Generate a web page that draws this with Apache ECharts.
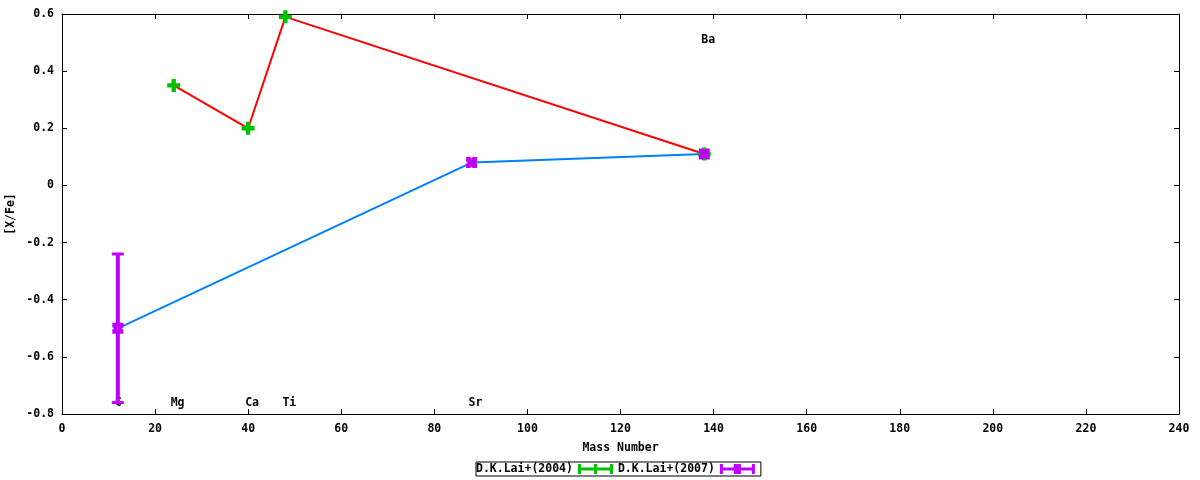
<!DOCTYPE html>
<html>
<head>
<meta charset="utf-8">
<script src="https://cdn.jsdelivr.net/npm/echarts@6/dist/echarts.min.js"></script>
<style>html,body{margin:0;padding:0;background:#fff}#c{width:1200px;height:480px}</style>
</head>
<body>
<div id="c"></div>
<script>
// ---- data ----
var xTicks = [0, 20, 40, 60, 80, 100, 120, 140, 160, 180, 200, 220, 240];
var yTicks = [-0.8, -0.6, -0.4, -0.2, 0, 0.2, 0.4, 0.6];
var lai2004Mass = [24, 40, 48, 138];
var lai2004Val  = [0.35, 0.20, 0.59, 0.11];
var lai2007Mass = [12, 88, 138];
var lai2007Val  = [-0.50, 0.08, 0.11];
var lai2007Err  = [0.26, 0, 0];
var elemNames = ['C', 'Mg', 'Ca', 'Ti', 'Sr', 'Ba'];
var elemMass  = [12, 24, 40, 48, 88, 138];
var elemLabelY = [-0.76, -0.76, -0.76, -0.76, -0.76, 0.51];

var FONT = 'DejaVu Sans Mono';
function pairs(xs, ys) { return xs.map(function (x, i) { return [x, ys[i]]; }); }

var plusPath = 'path://M4,0 L8,0 L8,4 L12,4 L12,8 L8,8 L8,12 L4,12 L4,8 L0,8 L0,4 L4,4 Z';
var boxPath = 'path://M0,0 L4,0 L5,1.5 L6,0 L10,0 L10,4 L8.5,5 L10,6 L10,10 L6,10 L5,8.5 L4,10 L0,10 L0,6 L1.5,5 L0,4 Z';
var legIcon1 = 'path://M0,0 L3,0 L3,3.5 L32,3.5 L32,0 L35,0 L35,10 L32,10 L32,6.5 L3,6.5 L3,10 L0,10 Z M16,0 L19,0 L19,10 L16,10 Z';
var legIcon2 = 'path://M0,0 L3,0 L3,3.5 L32,3.5 L32,0 L35,0 L35,10 L32,10 L32,6.5 L3,6.5 L3,10 L0,10 Z M14,0 L21,0 L21,10 L14,10 Z';

var GREEN = '#00c000', MAGENTA = '#c000ff', RED = '#ff0000', BLUE = '#0080ff';

var errData = lai2007Mass.map(function (m, i) {
  return [m, lai2007Val[i] - lai2007Err[i], lai2007Val[i] + lai2007Err[i]];
}).filter(function (d, i) { return lai2007Err[i] > 0; });

var axisText = { fontFamily: FONT, fontSize: 11.5, fontWeight: 'bold', color: '#000' };
var axLine = { show: true, onZero: false, lineStyle: { color: '#000', width: 1 } };
var axTick = { show: true, inside: true, length: 5, lineStyle: { color: '#000' } };

var chart = echarts.init(document.getElementById('c'), null, { renderer: 'canvas' });
chart.setOption({
  animation: false,
  backgroundColor: '#fff',
  grid: { left: 62, right: 21, top: 14, bottom: 66, containLabel: false, outerBoundsMode: 'none' },
  xAxis: [{
    type: 'value', min: xTicks[0], max: xTicks[xTicks.length - 1], interval: 20,
    name: 'Mass Number', nameLocation: 'middle', nameGap: 28, nameMoveOverlap: false,
    nameTextStyle: axisText,
    axisLine: axLine, axisTick: axTick,
    axisLabel: Object.assign({ margin: 9, formatter: function (v) { return String(v); } }, axisText),
    splitLine: { show: false }
  }, {
    type: 'value', position: 'top', min: xTicks[0], max: xTicks[xTicks.length - 1], interval: 20,
    axisLine: axLine, axisTick: axTick,
    axisLabel: { show: false }, splitLine: { show: false }
  }],
  yAxis: [{
    type: 'value', min: yTicks[0], max: yTicks[yTicks.length - 1], interval: 0.2,
    name: '[X/Fe]', nameLocation: 'middle', nameGap: 45, nameMoveOverlap: false,
    nameTextStyle: axisText,
    axisLine: axLine, axisTick: axTick,
    axisLabel: Object.assign({ margin: 8, formatter: function (v) { return Math.abs(v) < 1e-9 ? '0' : v.toFixed(1); } }, axisText),
    splitLine: { show: false }
  }, {
    type: 'value', position: 'right', min: yTicks[0], max: yTicks[yTicks.length - 1], interval: 0.2,
    axisLine: axLine, axisTick: axTick,
    axisLabel: { show: false }, splitLine: { show: false }
  }],
  legend: {
    left: 476, top: 462,
    orient: 'horizontal', align: 'right',
    padding: [1, 6, 1, 0],
    borderColor: '#000', borderWidth: 1,
    itemWidth: 35, itemHeight: 10, itemGap: 5,
    textStyle: { fontFamily: FONT, fontSize: 11.5, fontWeight: 'bold', color: '#000' },
    data: [
      { name: 'D.K.Lai+(2004)', icon: legIcon1 },
      { name: 'D.K.Lai+(2007)', icon: legIcon2 }
    ]
  },
  series: [
    {
      name: 'elements', type: 'custom', z: 1, silent: true,
      data: elemNames.map(function (n, i) { return [elemMass[i], elemLabelY[i], i]; }),
      renderItem: function (params, api) {
        var p = api.coord([api.value(0), api.value(1)]);
        return {
          type: 'text',
          style: {
            x: p[0] - 3, y: p[1],
            text: elemNames[api.value(2)],
            fill: '#000',
            font: 'bold 11.5px "' + FONT + '"',
            align: 'left', verticalAlign: 'middle'
          }
        };
      }
    },
    {
      name: 'line2004', type: 'line', data: pairs(lai2004Mass, lai2004Val),
      showSymbol: false, symbol: 'none', lineStyle: { color: RED, width: 2 }, z: 2, silent: true
    },
    {
      name: 'line2007', type: 'line', data: pairs(lai2007Mass, lai2007Val),
      showSymbol: false, symbol: 'none', lineStyle: { color: BLUE, width: 2 }, z: 2, silent: true
    },
    {
      name: 'err2007', type: 'custom', data: errData, z: 3,
      renderItem: function (params, api) {
        var x = api.value(0), lo = api.value(1), hi = api.value(2);
        var p1 = api.coord([x, lo]), p2 = api.coord([x, hi]);
        return {
          type: 'group',
          children: [
            { type: 'line', shape: { x1: p1[0], y1: p1[1], x2: p2[0], y2: p2[1] }, style: { stroke: MAGENTA, lineWidth: 4 } },
            { type: 'line', shape: { x1: p1[0] - 6, y1: p1[1], x2: p1[0] + 6, y2: p1[1] }, style: { stroke: MAGENTA, lineWidth: 3 } },
            { type: 'line', shape: { x1: p2[0] - 6, y1: p2[1], x2: p2[0] + 6, y2: p2[1] }, style: { stroke: MAGENTA, lineWidth: 3 } }
          ]
        };
      }
    },
    {
      name: 'D.K.Lai+(2004)', type: 'scatter', data: pairs(lai2004Mass, lai2004Val),
      symbol: plusPath, symbolSize: 13, itemStyle: { color: GREEN, opacity: 1 }, z: 4
    },
    {
      name: 'D.K.Lai+(2007)', type: 'scatter', data: pairs(lai2007Mass, lai2007Val),
      symbol: boxPath, symbolSize: 11, itemStyle: { color: MAGENTA, opacity: 1 }, z: 5
    }
  ]
});
</script>
</body>
</html>
